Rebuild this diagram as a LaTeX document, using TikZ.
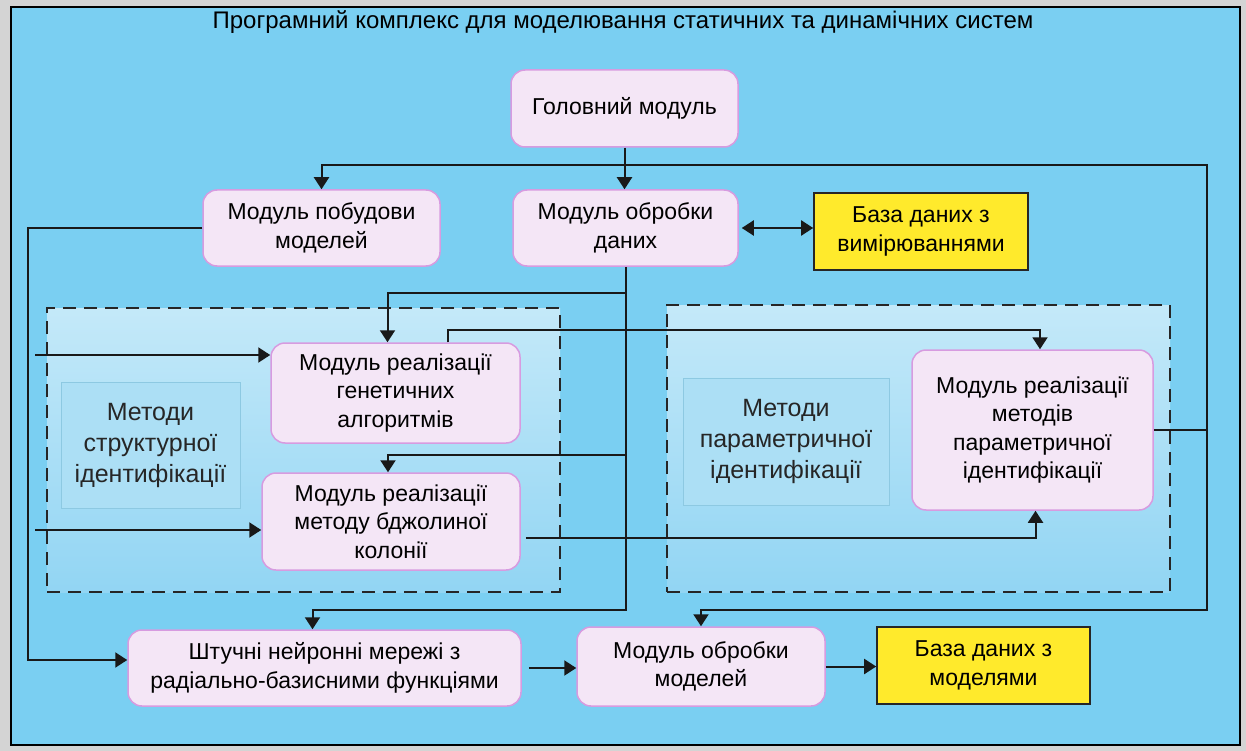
\documentclass[tikz,border=0pt]{standalone}
\usepackage{fontspec}
\setmainfont{Liberation Sans}
\usetikzlibrary{arrows.meta}

\definecolor{framegray}{HTML}{D4D4D4}
\definecolor{bgblue}{HTML}{7ACFF2}
\definecolor{grptop}{HTML}{C4E9F9}
\definecolor{grpbot}{HTML}{92D5F3}
\definecolor{modfill}{HTML}{F4E6F6}
\definecolor{modedge}{HTML}{D79BE0}
\definecolor{dbfill}{HTML}{FFEA2C}
\definecolor{methfill}{HTML}{ACDFF5}
\definecolor{methedge}{HTML}{8DC9E2}

\tikzset{
  module/.style={draw=modedge, fill=modfill, line width=1.5pt, rounded corners=14pt, align=center, inner sep=0pt},
  dbase/.style={draw=black!85, fill=dbfill, line width=1.6pt, align=center, inner sep=0pt},
  grpbox/.style={draw=black!85, line width=1.8pt, dash pattern=on 13pt off 8pt, top color=grptop, bottom color=grpbot, inner sep=0pt},
  methods/.style={draw=methedge, fill=methfill, line width=0.6pt, align=center, inner sep=0pt, text=black!85, font=\fontsize{25}{31}\selectfont},
  link/.style={line width=2pt, draw=black!90}
}

\begin{document}
\begin{tikzpicture}[x=1pt, y=-1pt, >={Triangle[length=12pt,width=15pt]}, font=\fontsize{23}{28.5}\selectfont]
\useasboundingbox (0,0) rectangle (1246,751);
\fill[framegray] (0,0) rectangle (1246,751);
\draw[fill=bgblue, line width=1.5pt] (11,7) rectangle (1240,745);

\node (title) at (623,22) {\fontsize{24}{26}\selectfont Програмний комплекс для моделювання статичних та динамічних систем};

% groups of methods
\node[grpbox, minimum width=513pt, minimum height=284pt] (strucgrp) at (303.5,450) {};
\node[grpbox, minimum width=503pt, minimum height=287pt] (paramgrp) at (918.5,448.5) {};
\node[methods, minimum width=179pt, minimum height=126pt] (strucmeth) at (150.5,445) {Методи\\структурної\\ідентифікації};
\node[methods, minimum width=206pt, minimum height=127pt] (parammeth) at (786,441.5) {Методи\\параметричної\\ідентифікації};

% modules
\node[module, minimum width=227pt, minimum height=77pt] (head) at (624.5,108.5) {Головний модуль};
\node[module, minimum width=237pt, minimum height=76pt] (build) at (321.5,228) {Модуль побудови\\моделей};
\node[module, minimum width=225pt, minimum height=76pt] (dataproc) at (625.5,228) {Модуль обробки\\даних};
\node[dbase, minimum width=214pt, minimum height=77pt] (dbmeas) at (921,231.5) {База даних з\\вимірюваннями};
\node[module, minimum width=249pt, minimum height=100pt] (genetic) at (395.5,393) {Модуль реалізації\\генетичних\\алгоритмів};
\node[module, minimum width=258pt, minimum height=97pt] (bee) at (391,521.5) {Модуль реалізації\\методу бджолиної\\колонії};
\node[module, minimum width=241pt, minimum height=160pt] (param) at (1032.5,430) {Модуль реалізації\\методів\\параметричної\\ідентифікації};
\node[module, minimum width=393pt, minimum height=76pt] (neural) at (324.5,668) {Штучні нейронні мережі з\\радіально-базисними функціями};
\node[module, minimum width=248pt, minimum height=79pt] (modelproc) at (701,666.5) {Модуль обробки\\моделей};
\node[dbase, minimum width=213pt, minimum height=77pt] (dbmodel) at (983.5,665.5) {База даних з\\моделями};

% buses
\coordinate (topbus) at (624.5,165);
\coordinate (rbus) at (1207,610);
\coordinate (lbus) at (28,228);
\coordinate (dbus) at (dataproc.south |- rbus);
\coordinate (gbr) at (625.5,293);
\coordinate (bbr) at (625.5,455);
\coordinate (in1) at (35,355);
\coordinate (in2) at (35,530);
\coordinate (gp) at (1040,330);

\draw[link,->] (head.south) -- (head.south |- dataproc.north);
\draw[link,->] (topbus) -| (build.north);
\draw[link,->] (topbus) -| (rbus) -| (modelproc.north);
\draw[link,<->, shorten <=3pt] (dataproc.east) -- (dataproc.east -| dbmeas.west);
\draw[link,->] (build.west) -- (lbus) |- ([yshift=8pt]neural.west);
\draw[link,->] (dataproc.south) -- (dbus) -| ([xshift=-12pt]neural.north);
\draw[link,->] (gbr) -| ([xshift=-8pt]genetic.north);
\draw[link,->] (bbr) -| ([xshift=-3pt]bee.north);
\draw[link,->] (in1) -- (in1 -| genetic.west);
\draw[link,->] (in2) -- (in2 -| bee.west);
\draw[link,->] ([xshift=52pt]genetic.north) |- (gp) -- (gp |- param.north);
\draw[link,->] ([yshift=-16pt,xshift=5pt]bee.east) -| ([xshift=3pt]param.south);
\draw[link] (param.east) -- (param.east -| rbus);
\draw[link,->, shorten <=7pt] (neural.east) -- (neural.east -| modelproc.west);
\draw[link,->] (modelproc.east) -- (modelproc.east -| dbmodel.west);
\end{tikzpicture}
\end{document}
